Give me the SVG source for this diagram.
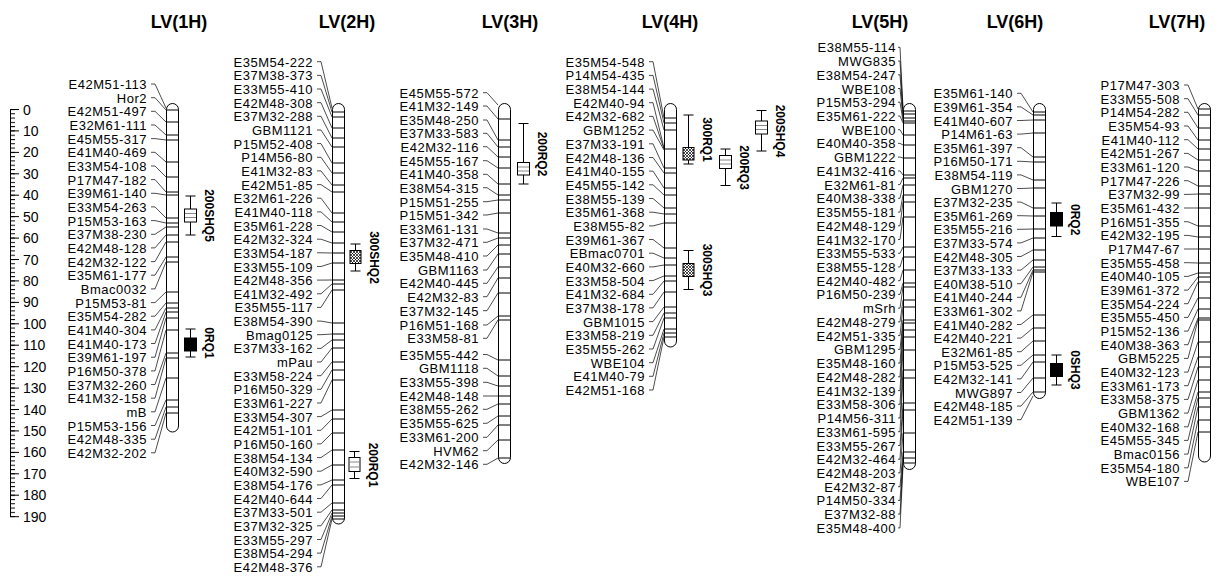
<svg xmlns="http://www.w3.org/2000/svg" width="1217" height="577" viewBox="0 0 1217 577">
<style>
.hdr{font-family:"Liberation Sans",Arial,sans-serif;font-weight:bold;font-size:18px;text-anchor:middle;fill:#000}
.lbl{font-family:"Liberation Sans",Arial,sans-serif;font-size:13px;letter-spacing:0.5px;text-anchor:end;fill:#000}
.sc{font-family:"Liberation Sans",Arial,sans-serif;font-size:14px;fill:#000}
.q{font-family:"Liberation Sans",Arial,sans-serif;font-weight:bold;font-size:12px;text-anchor:middle;fill:#000}
.chr{fill:#fff;stroke:#000;stroke-width:1}
.bar{stroke:#000;stroke-width:1;fill:none}
.con{stroke:#000;stroke-width:0.7;fill:none}
.wh{stroke:#000;stroke-width:1;fill:none}
.bw{fill:#fff;stroke:#000;stroke-width:1}
.bh{fill:url(#hatch);stroke:#000;stroke-width:1}
.bb{fill:#000;stroke:#000;stroke-width:1}
.in{stroke:#888;stroke-width:1}
</style>
<defs>
<pattern id="hatch" patternUnits="userSpaceOnUse" width="3" height="3">
<rect width="3" height="3" fill="#fff"/>
<path d="M0 0L3 3M3 0L0 3" stroke="#000" stroke-width="0.7"/>
</pattern>
<pattern id="ticks" patternUnits="userSpaceOnUse" x="10" y="109" width="6" height="4.2857">
<rect x="0" y="0" width="5" height="1" fill="#000"/>
</pattern>
</defs>
<rect width="1217" height="577" fill="#fff"/>

<g id="headers">
<text class="hdr" x="179" y="28">LV(1H)</text>
<text class="hdr" x="347" y="28">LV(2H)</text>
<text class="hdr" x="510" y="28">LV(3H)</text>
<text class="hdr" x="670" y="28">LV(4H)</text>
<text class="hdr" x="880" y="28">LV(5H)</text>
<text class="hdr" x="1015" y="28">LV(6H)</text>
<text class="hdr" x="1177" y="28">LV(7H)</text>
</g>

<g id="scale">
<line class="bar" x1="10.5" y1="109.5" x2="10.5" y2="516.7"/>
<rect x="10" y="109" width="6" height="408.5" fill="url(#ticks)"/>
<path class="bar" d="M10 109.5H19M10 130.9H19M10 152.4H19M10 173.8H19M10 195.2H19M10 216.6H19M10 238.1H19M10 259.5H19M10 280.9H19M10 302.4H19M10 323.8H19M10 345.2H19M10 366.7H19M10 388.1H19M10 409.5H19M10 430.9H19M10 452.4H19M10 473.8H19M10 495.2H19M10 516.7H19"/>
<text class="sc" x="23" y="114.5">0</text>
<text class="sc" x="23" y="135.9">10</text>
<text class="sc" x="23" y="157.4">20</text>
<text class="sc" x="23" y="178.8">30</text>
<text class="sc" x="23" y="200.2">40</text>
<text class="sc" x="23" y="221.6">50</text>
<text class="sc" x="23" y="243.1">60</text>
<text class="sc" x="23" y="264.5">70</text>
<text class="sc" x="23" y="285.9">80</text>
<text class="sc" x="23" y="307.4">90</text>
<text class="sc" x="23" y="328.8">100</text>
<text class="sc" x="23" y="350.2">110</text>
<text class="sc" x="23" y="371.7">120</text>
<text class="sc" x="23" y="393.1">130</text>
<text class="sc" x="23" y="414.5">140</text>
<text class="sc" x="23" y="435.9">150</text>
<text class="sc" x="23" y="457.4">160</text>
<text class="sc" x="23" y="478.8">170</text>
<text class="sc" x="23" y="500.2">180</text>
<text class="sc" x="23" y="521.7">190</text>
</g>

<g id="connectors">
<path class="con" d="M151 84H155L166 108"/>
<path class="con" d="M151 97.7H155L166 110"/>
<path class="con" d="M151 111.3H155L166 122"/>
<path class="con" d="M151 125H155L166 135"/>
<path class="con" d="M151 138.6H155L166 140"/>
<path class="con" d="M151 152.3H155L166 162"/>
<path class="con" d="M151 166H155L166 177"/>
<path class="con" d="M151 179.6H155L166 192"/>
<path class="con" d="M151 193.3H155L166 195"/>
<path class="con" d="M151 206.9H155L166 218"/>
<path class="con" d="M151 220.6H155L166 223"/>
<path class="con" d="M151 234.3H155L166 227"/>
<path class="con" d="M151 247.9H155L166 235"/>
<path class="con" d="M151 261.6H155L166 242"/>
<path class="con" d="M151 275.2H155L166 257"/>
<path class="con" d="M151 288.9H155L166 262"/>
<path class="con" d="M151 302.6H155L166 292"/>
<path class="con" d="M151 316.2H155L166 303"/>
<path class="con" d="M151 329.9H155L166 308"/>
<path class="con" d="M151 343.5H155L166 312"/>
<path class="con" d="M151 357.2H155L166 318"/>
<path class="con" d="M151 370.9H155L166 330"/>
<path class="con" d="M151 384.5H155L166 353"/>
<path class="con" d="M151 398.2H155L166 358"/>
<path class="con" d="M151 411.8H155L166 378"/>
<path class="con" d="M151 425.5H155L166 400"/>
<path class="con" d="M151 439.2H155L166 407"/>
<path class="con" d="M151 452.8H155L166 413"/>
<path class="con" d="M317 61.7H321L332 108"/>
<path class="con" d="M317 75.4H321L332 112"/>
<path class="con" d="M317 89H321L332 117"/>
<path class="con" d="M317 102.7H321L332 128"/>
<path class="con" d="M317 116.3H321L332 138"/>
<path class="con" d="M317 130H321L332 147"/>
<path class="con" d="M317 143.6H321L332 163"/>
<path class="con" d="M317 157.3H321L332 173"/>
<path class="con" d="M317 170.9H321L332 185"/>
<path class="con" d="M317 184.6H321L332 192"/>
<path class="con" d="M317 198.2H321L332 213"/>
<path class="con" d="M317 211.9H321L332 222"/>
<path class="con" d="M317 225.5H321L332 232"/>
<path class="con" d="M317 239.2H321L332 243"/>
<path class="con" d="M317 252.8H321L332 253"/>
<path class="con" d="M317 266.5H321L332 263"/>
<path class="con" d="M317 280.1H321L332 280"/>
<path class="con" d="M317 293.8H321L332 284"/>
<path class="con" d="M317 307.4H321L332 290"/>
<path class="con" d="M317 321.1H321L332 323"/>
<path class="con" d="M317 334.7H321L332 334"/>
<path class="con" d="M317 348.4H321L332 340"/>
<path class="con" d="M317 362H321L332 348"/>
<path class="con" d="M317 375.7H321L332 362"/>
<path class="con" d="M317 389.3H321L332 370"/>
<path class="con" d="M317 403H321L332 380"/>
<path class="con" d="M317 416.6H321L332 410"/>
<path class="con" d="M317 430.3H321L332 419"/>
<path class="con" d="M317 443.9H321L332 433"/>
<path class="con" d="M317 457.6H321L332 450"/>
<path class="con" d="M317 471.2H321L332 465"/>
<path class="con" d="M317 484.9H321L332 480"/>
<path class="con" d="M317 498.5H321L332 485"/>
<path class="con" d="M317 512.2H321L332 503"/>
<path class="con" d="M317 525.8H321L332 510"/>
<path class="con" d="M317 539.5H321L332 513"/>
<path class="con" d="M317 553.1H321L332 516"/>
<path class="con" d="M317 566.8H321L332 519"/>
<path class="con" d="M483 92.7H487L498 105"/>
<path class="con" d="M483 106H487L498 119"/>
<path class="con" d="M483 120H487L498 140"/>
<path class="con" d="M483 133.3H487L498 147"/>
<path class="con" d="M483 146.7H487L498 157"/>
<path class="con" d="M483 160.7H487L498 168"/>
<path class="con" d="M483 174.3H487L498 184"/>
<path class="con" d="M483 187.7H487L498 195"/>
<path class="con" d="M483 201.7H487L498 200"/>
<path class="con" d="M483 215H487L498 213"/>
<path class="con" d="M483 229H487L498 233"/>
<path class="con" d="M483 242.3H487L498 238"/>
<path class="con" d="M483 256H487L498 245"/>
<path class="con" d="M483 270H487L498 254"/>
<path class="con" d="M483 283.3H487L498 267"/>
<path class="con" d="M483 296.7H487L498 278"/>
<path class="con" d="M483 310.7H487L498 293"/>
<path class="con" d="M483 325H487L498 316"/>
<path class="con" d="M483 338.3H487L498 320"/>
<path class="con" d="M483 354.5H487L498 360"/>
<path class="con" d="M483 368.3H487L498 376"/>
<path class="con" d="M483 382.3H487L498 386"/>
<path class="con" d="M483 396H487L498 396"/>
<path class="con" d="M483 409.3H487L498 404"/>
<path class="con" d="M483 423.3H487L498 416"/>
<path class="con" d="M483 437.3H487L498 425"/>
<path class="con" d="M483 450.7H487L498 440"/>
<path class="con" d="M483 464.3H487L498 458"/>
<path class="con" d="M649 61.7H653L664 118"/>
<path class="con" d="M649 75.4H653L664 123"/>
<path class="con" d="M649 89.1H653L664 130"/>
<path class="con" d="M649 102.7H653L664 148"/>
<path class="con" d="M649 116.4H653L664 149"/>
<path class="con" d="M649 130.1H653L664 150"/>
<path class="con" d="M649 143.8H653L664 168"/>
<path class="con" d="M649 157.5H653L664 173"/>
<path class="con" d="M649 171.1H653L664 188"/>
<path class="con" d="M649 184.8H653L664 195"/>
<path class="con" d="M649 198.5H653L664 208"/>
<path class="con" d="M649 212.2H653L664 214"/>
<path class="con" d="M649 225.9H653L664 223"/>
<path class="con" d="M649 239.5H653L664 248"/>
<path class="con" d="M649 253.2H653L664 258"/>
<path class="con" d="M649 266.9H653L664 265"/>
<path class="con" d="M649 280.6H653L664 276"/>
<path class="con" d="M649 294.3H653L664 281"/>
<path class="con" d="M649 307.9H653L664 292"/>
<path class="con" d="M649 321.6H653L664 307"/>
<path class="con" d="M649 335.3H653L664 313"/>
<path class="con" d="M649 349H653L664 318"/>
<path class="con" d="M649 362.7H653L664 329"/>
<path class="con" d="M649 376.3H653L664 333"/>
<path class="con" d="M649 390H653L664 337"/>
<path class="con" d="M898 47.3H900L903 108"/>
<path class="con" d="M898 61H900L903 111"/>
<path class="con" d="M898 74.8H900L903 114"/>
<path class="con" d="M898 88.5H900L903 118"/>
<path class="con" d="M898 102.2H900L903 121"/>
<path class="con" d="M898 116H900L903 123"/>
<path class="con" d="M898 129.7H900L903 135"/>
<path class="con" d="M898 143.4H900L903 145"/>
<path class="con" d="M898 157.1H900L903 158"/>
<path class="con" d="M898 170.9H900L903 175"/>
<path class="con" d="M898 184.6H900L903 178"/>
<path class="con" d="M898 198.3H900L903 185"/>
<path class="con" d="M898 212.1H900L903 195"/>
<path class="con" d="M898 225.8H900L903 202"/>
<path class="con" d="M898 239.5H900L903 217"/>
<path class="con" d="M898 253.3H900L903 247"/>
<path class="con" d="M898 267H900L903 257"/>
<path class="con" d="M898 280.7H900L903 270"/>
<path class="con" d="M898 294.4H900L903 283"/>
<path class="con" d="M898 308.2H900L903 287"/>
<path class="con" d="M898 321.9H900L903 300"/>
<path class="con" d="M898 335.6H900L903 307"/>
<path class="con" d="M898 349.4H900L903 320"/>
<path class="con" d="M898 363.1H900L903 323"/>
<path class="con" d="M898 376.8H900L903 330"/>
<path class="con" d="M898 390.6H900L903 337"/>
<path class="con" d="M898 404.3H900L903 350"/>
<path class="con" d="M898 418H900L903 370"/>
<path class="con" d="M898 431.7H900L903 378"/>
<path class="con" d="M898 445.5H900L903 403"/>
<path class="con" d="M898 459.2H900L903 410"/>
<path class="con" d="M898 472.9H900L903 433"/>
<path class="con" d="M898 486.7H900L903 452"/>
<path class="con" d="M898 500.4H900L903 458"/>
<path class="con" d="M898 514.1H900L903 463"/>
<path class="con" d="M898 527.9H900L903 466"/>
<path class="con" d="M1017 93.3H1021L1033 112"/>
<path class="con" d="M1017 106.9H1021L1033 115"/>
<path class="con" d="M1017 120.5H1021L1033 120"/>
<path class="con" d="M1017 134.1H1021L1033 133"/>
<path class="con" d="M1017 147.7H1021L1033 157"/>
<path class="con" d="M1017 161.3H1021L1033 162"/>
<path class="con" d="M1017 174.9H1021L1033 180"/>
<path class="con" d="M1017 188.5H1021L1033 188"/>
<path class="con" d="M1017 202.1H1021L1033 208"/>
<path class="con" d="M1017 215.7H1021L1033 216"/>
<path class="con" d="M1017 229.3H1021L1033 229"/>
<path class="con" d="M1017 242.9H1021L1033 238"/>
<path class="con" d="M1017 256.5H1021L1033 250"/>
<path class="con" d="M1017 270.1H1021L1033 260"/>
<path class="con" d="M1017 283.7H1021L1033 267"/>
<path class="con" d="M1017 297.3H1021L1033 270"/>
<path class="con" d="M1017 310.9H1021L1033 272"/>
<path class="con" d="M1017 324.5H1021L1033 315"/>
<path class="con" d="M1017 338.1H1021L1033 328"/>
<path class="con" d="M1017 351.7H1021L1033 341"/>
<path class="con" d="M1017 365.3H1021L1033 355"/>
<path class="con" d="M1017 378.9H1021L1033 362"/>
<path class="con" d="M1017 392.5H1021L1033 378"/>
<path class="con" d="M1017 406.1H1021L1033 392"/>
<path class="con" d="M1017 419.7H1021L1033 396"/>
<path class="con" d="M1184 85H1188L1198 109"/>
<path class="con" d="M1184 98.7H1188L1198 115"/>
<path class="con" d="M1184 112.3H1188L1198 128"/>
<path class="con" d="M1184 126H1188L1198 140"/>
<path class="con" d="M1184 139.7H1188L1198 149"/>
<path class="con" d="M1184 153.4H1188L1198 160"/>
<path class="con" d="M1184 167H1188L1198 171"/>
<path class="con" d="M1184 180.7H1188L1198 186"/>
<path class="con" d="M1184 194.4H1188L1198 194"/>
<path class="con" d="M1184 208H1188L1198 208"/>
<path class="con" d="M1184 221.7H1188L1198 226"/>
<path class="con" d="M1184 235.4H1188L1198 237"/>
<path class="con" d="M1184 249H1188L1198 249"/>
<path class="con" d="M1184 262.7H1188L1198 263"/>
<path class="con" d="M1184 276.4H1188L1198 273"/>
<path class="con" d="M1184 290.1H1188L1198 277"/>
<path class="con" d="M1184 303.7H1188L1198 282"/>
<path class="con" d="M1184 317.4H1188L1198 298"/>
<path class="con" d="M1184 331.1H1188L1198 309"/>
<path class="con" d="M1184 344.7H1188L1198 318"/>
<path class="con" d="M1184 358.4H1188L1198 320"/>
<path class="con" d="M1184 372.1H1188L1198 342"/>
<path class="con" d="M1184 385.7H1188L1198 357"/>
<path class="con" d="M1184 399.4H1188L1198 367"/>
<path class="con" d="M1184 413.1H1188L1198 380"/>
<path class="con" d="M1184 426.8H1188L1198 392"/>
<path class="con" d="M1184 440.4H1188L1198 398"/>
<path class="con" d="M1184 454.1H1188L1198 407"/>
<path class="con" d="M1184 467.8H1188L1198 420"/>
<path class="con" d="M1184 481.4H1188L1198 432"/>
</g>

<g id="LV1H">
<rect class="chr" x="166.5" y="103.5" width="12" height="328.5" rx="6" ry="6"/>
<path class="bar" d="M166.5 110H178.5M166.5 122H178.5M166.5 135H178.5M166.5 140H178.5M166.5 162H178.5M166.5 177H178.5M166.5 192H178.5M166.5 195H178.5M166.5 218H178.5M166.5 223H178.5M166.5 227H178.5M166.5 235H178.5M166.5 242H178.5M166.5 257H178.5M166.5 262H178.5M166.5 292H178.5M166.5 303H178.5M166.5 308H178.5M166.5 312H178.5M166.5 318H178.5M166.5 330H178.5M166.5 353H178.5M166.5 358H178.5M166.5 378H178.5M166.5 400H178.5M166.5 407H178.5M166.5 413H178.5"/>
<text class="lbl" x="147" y="89">E42M51-113</text>
<text class="lbl" x="147" y="102.7">Hor2</text>
<text class="lbl" x="147" y="116.3">E42M51-497</text>
<text class="lbl" x="147" y="130">E32M61-111</text>
<text class="lbl" x="147" y="143.6">E45M55-317</text>
<text class="lbl" x="147" y="157.3">E41M40-469</text>
<text class="lbl" x="147" y="171">E33M54-108</text>
<text class="lbl" x="147" y="184.6">P17M47-182</text>
<text class="lbl" x="147" y="198.3">E39M61-140</text>
<text class="lbl" x="147" y="211.9">E33M54-263</text>
<text class="lbl" x="147" y="225.6">P15M53-163</text>
<text class="lbl" x="147" y="239.3">E37M38-230</text>
<text class="lbl" x="147" y="252.9">E42M48-128</text>
<text class="lbl" x="147" y="266.6">E42M32-122</text>
<text class="lbl" x="147" y="280.2">E35M61-177</text>
<text class="lbl" x="147" y="293.9">Bmac0032</text>
<text class="lbl" x="147" y="307.6">P15M53-81</text>
<text class="lbl" x="147" y="321.2">E35M54-282</text>
<text class="lbl" x="147" y="334.9">E41M40-304</text>
<text class="lbl" x="147" y="348.5">E41M40-173</text>
<text class="lbl" x="147" y="362.2">E39M61-197</text>
<text class="lbl" x="147" y="375.9">P16M50-378</text>
<text class="lbl" x="147" y="389.5">E37M32-260</text>
<text class="lbl" x="147" y="403.2">E41M32-158</text>
<text class="lbl" x="147" y="416.8">mB</text>
<text class="lbl" x="147" y="430.5">P15M53-156</text>
<text class="lbl" x="147" y="444.2">E42M48-335</text>
<text class="lbl" x="147" y="457.8">E42M32-202</text>
<g id="q-200SHQ5">
<path class="wh" d="M190.5 196V235M185.5 196H195.5M185.5 235H195.5"/>
<rect class="bw" x="184.5" y="209" width="12" height="13"/>
<path class="in" d="M185 213.5H196M185 217.5H196"/>
<text class="q" transform="translate(204.5 215.5) rotate(90)">200SHQ5</text>
</g>
<g id="q-0RQ1">
<path class="wh" d="M190.5 329V357M185.5 329H195.5M185.5 357H195.5"/>
<rect class="bb" x="184.5" y="338" width="12" height="13"/>
<text class="q" transform="translate(204.5 343) rotate(90)">0RQ1</text>
</g>
</g>

<g id="LV2H">
<rect class="chr" x="332.5" y="103.5" width="12" height="420.5" rx="6" ry="6"/>
<path class="bar" d="M332.5 112H344.5M332.5 117H344.5M332.5 128H344.5M332.5 138H344.5M332.5 147H344.5M332.5 163H344.5M332.5 173H344.5M332.5 185H344.5M332.5 192H344.5M332.5 213H344.5M332.5 222H344.5M332.5 232H344.5M332.5 243H344.5M332.5 253H344.5M332.5 263H344.5M332.5 280H344.5M332.5 284H344.5M332.5 290H344.5M332.5 323H344.5M332.5 334H344.5M332.5 340H344.5M332.5 348H344.5M332.5 362H344.5M332.5 370H344.5M332.5 380H344.5M332.5 410H344.5M332.5 419H344.5M332.5 433H344.5M332.5 450H344.5M332.5 465H344.5M332.5 480H344.5M332.5 485H344.5M332.5 503H344.5M332.5 510H344.5M332.5 513H344.5M332.5 516H344.5M332.5 519H344.5"/>
<text class="lbl" x="313" y="66.7">E35M54-222</text>
<text class="lbl" x="313" y="80.4">E37M38-373</text>
<text class="lbl" x="313" y="94">E33M55-410</text>
<text class="lbl" x="313" y="107.7">E42M48-308</text>
<text class="lbl" x="313" y="121.3">E37M32-288</text>
<text class="lbl" x="313" y="135">GBM1121</text>
<text class="lbl" x="313" y="148.6">P15M52-408</text>
<text class="lbl" x="313" y="162.3">P14M56-80</text>
<text class="lbl" x="313" y="175.9">E41M32-83</text>
<text class="lbl" x="313" y="189.6">E42M51-85</text>
<text class="lbl" x="313" y="203.2">E32M61-226</text>
<text class="lbl" x="313" y="216.9">E41M40-118</text>
<text class="lbl" x="313" y="230.5">E35M61-228</text>
<text class="lbl" x="313" y="244.2">E42M32-324</text>
<text class="lbl" x="313" y="257.8">E33M54-187</text>
<text class="lbl" x="313" y="271.5">E33M55-109</text>
<text class="lbl" x="313" y="285.1">E42M48-356</text>
<text class="lbl" x="313" y="298.8">E41M32-492</text>
<text class="lbl" x="313" y="312.4">E35M55-117</text>
<text class="lbl" x="313" y="326.1">E38M54-390</text>
<text class="lbl" x="313" y="339.7">Bmag0125</text>
<text class="lbl" x="313" y="353.4">E37M33-162</text>
<text class="lbl" x="313" y="367">mPau</text>
<text class="lbl" x="313" y="380.7">E33M58-224</text>
<text class="lbl" x="313" y="394.3">P16M50-329</text>
<text class="lbl" x="313" y="408">E33M61-227</text>
<text class="lbl" x="313" y="421.6">E33M54-307</text>
<text class="lbl" x="313" y="435.3">E42M51-101</text>
<text class="lbl" x="313" y="448.9">P16M50-160</text>
<text class="lbl" x="313" y="462.6">E38M54-134</text>
<text class="lbl" x="313" y="476.2">E40M32-590</text>
<text class="lbl" x="313" y="489.9">E38M54-176</text>
<text class="lbl" x="313" y="503.5">E42M40-644</text>
<text class="lbl" x="313" y="517.2">E37M33-501</text>
<text class="lbl" x="313" y="530.8">E37M32-325</text>
<text class="lbl" x="313" y="544.5">E33M55-297</text>
<text class="lbl" x="313" y="558.1">E38M54-294</text>
<text class="lbl" x="313" y="571.8">E42M48-376</text>
<g id="q-300SHQ2">
<path class="wh" d="M355.5 244V271M350.5 244H360.5M350.5 271H360.5"/>
<rect class="bh" x="350" y="250.5" width="11" height="13"/>
<text class="q" transform="translate(369.5 257.5) rotate(90)">300SHQ2</text>
</g>
<g id="q-200RQ1">
<path class="wh" d="M354.5 451.5V478.5M349.5 451.5H359.5M349.5 478.5H359.5"/>
<rect class="bw" x="349" y="457.5" width="11" height="14"/>
<path class="in" d="M349.5 462H359.5M349.5 467H359.5"/>
<text class="q" transform="translate(368.5 465) rotate(90)">200RQ1</text>
</g>
</g>

<g id="LV3H">
<rect class="chr" x="498.5" y="103.5" width="12" height="360" rx="6" ry="6"/>
<path class="bar" d="M498.5 119H510.5M498.5 140H510.5M498.5 147H510.5M498.5 157H510.5M498.5 168H510.5M498.5 184H510.5M498.5 195H510.5M498.5 200H510.5M498.5 213H510.5M498.5 233H510.5M498.5 238H510.5M498.5 245H510.5M498.5 254H510.5M498.5 267H510.5M498.5 278H510.5M498.5 293H510.5M498.5 316H510.5M498.5 320H510.5M498.5 360H510.5M498.5 376H510.5M498.5 386H510.5M498.5 396H510.5M498.5 404H510.5M498.5 416H510.5M498.5 425H510.5M498.5 440H510.5M498.5 458H510.5"/>
<text class="lbl" x="479" y="97.7">E45M55-572</text>
<text class="lbl" x="479" y="111">E41M32-149</text>
<text class="lbl" x="479" y="125">E35M48-250</text>
<text class="lbl" x="479" y="138.3">E37M33-583</text>
<text class="lbl" x="479" y="151.7">E42M32-116</text>
<text class="lbl" x="479" y="165.7">E45M55-167</text>
<text class="lbl" x="479" y="179.3">E41M40-358</text>
<text class="lbl" x="479" y="192.7">E38M54-315</text>
<text class="lbl" x="479" y="206.7">P15M51-255</text>
<text class="lbl" x="479" y="220">P15M51-342</text>
<text class="lbl" x="479" y="234">E33M61-131</text>
<text class="lbl" x="479" y="247.3">E37M32-471</text>
<text class="lbl" x="479" y="261">E35M48-410</text>
<text class="lbl" x="479" y="275">GBM1163</text>
<text class="lbl" x="479" y="288.3">E42M40-445</text>
<text class="lbl" x="479" y="301.7">E42M32-83</text>
<text class="lbl" x="479" y="315.7">E37M32-145</text>
<text class="lbl" x="479" y="330">P16M51-168</text>
<text class="lbl" x="479" y="343.3">E33M58-81</text>
<text class="lbl" x="479" y="359.5">E35M55-442</text>
<text class="lbl" x="479" y="373.3">GBM1118</text>
<text class="lbl" x="479" y="387.3">E33M55-398</text>
<text class="lbl" x="479" y="401">E42M48-148</text>
<text class="lbl" x="479" y="414.3">E38M55-262</text>
<text class="lbl" x="479" y="428.3">E35M55-625</text>
<text class="lbl" x="479" y="442.3">E33M61-200</text>
<text class="lbl" x="479" y="455.7">HVM62</text>
<text class="lbl" x="479" y="469.3">E42M32-146</text>
<g id="q-200RQ2">
<path class="wh" d="M523.5 123.5V184M518.5 123.5H528.5M518.5 184H528.5"/>
<rect class="bw" x="517.5" y="162.5" width="12" height="12.5"/>
<path class="in" d="M518 167H529M518 171H529"/>
<text class="q" transform="translate(537.5 154) rotate(90)">200RQ2</text>
</g>
</g>

<g id="LV4H">
<rect class="chr" x="664.5" y="103.5" width="12" height="243.5" rx="6" ry="6"/>
<path class="bar" d="M664.5 118H676.5M664.5 123H676.5M664.5 130H676.5M664.5 149H676.5M664.5 168H676.5M664.5 173H676.5M664.5 188H676.5M664.5 195H676.5M664.5 208H676.5M664.5 214H676.5M664.5 223H676.5M664.5 248H676.5M664.5 258H676.5M664.5 265H676.5M664.5 276H676.5M664.5 281H676.5M664.5 292H676.5M664.5 307H676.5M664.5 313H676.5M664.5 318H676.5M664.5 329H676.5M664.5 333H676.5M664.5 337H676.5"/>
<text class="lbl" x="645" y="66.7">E35M54-548</text>
<text class="lbl" x="645" y="80.4">P14M54-435</text>
<text class="lbl" x="645" y="94.1">E38M54-144</text>
<text class="lbl" x="645" y="107.7">E42M40-94</text>
<text class="lbl" x="645" y="121.4">E42M32-682</text>
<text class="lbl" x="645" y="135.1">GBM1252</text>
<text class="lbl" x="645" y="148.8">E37M33-191</text>
<text class="lbl" x="645" y="162.5">E42M48-136</text>
<text class="lbl" x="645" y="176.1">E41M40-155</text>
<text class="lbl" x="645" y="189.8">E45M55-142</text>
<text class="lbl" x="645" y="203.5">E38M55-139</text>
<text class="lbl" x="645" y="217.2">E35M61-368</text>
<text class="lbl" x="645" y="230.9">E38M55-82</text>
<text class="lbl" x="645" y="244.5">E39M61-367</text>
<text class="lbl" x="645" y="258.2">EBmac0701</text>
<text class="lbl" x="645" y="271.9">E40M32-660</text>
<text class="lbl" x="645" y="285.6">E33M58-504</text>
<text class="lbl" x="645" y="299.3">E41M32-684</text>
<text class="lbl" x="645" y="312.9">E37M38-178</text>
<text class="lbl" x="645" y="326.6">GBM1015</text>
<text class="lbl" x="645" y="340.3">E33M58-219</text>
<text class="lbl" x="645" y="354">E35M55-262</text>
<text class="lbl" x="645" y="367.7">WBE104</text>
<text class="lbl" x="645" y="381.3">E41M40-79</text>
<text class="lbl" x="645" y="395">E42M51-168</text>
<g id="q-300RQ1">
<path class="wh" d="M688.5 115V164M683.5 115H693.5M683.5 164H693.5"/>
<rect class="bh" x="683" y="147.5" width="11" height="12.5"/>
<text class="q" transform="translate(702.5 139.5) rotate(90)">300RQ1</text>
</g>
<g id="q-200RQ3">
<path class="wh" d="M725.5 149V185.5M720.5 149H730.5M720.5 185.5H730.5"/>
<rect class="bw" x="719.5" y="155.5" width="12" height="13"/>
<path class="in" d="M720 160H731M720 164H731"/>
<text class="q" transform="translate(739.5 167.5) rotate(90)">200RQ3</text>
</g>
<g id="q-200SHQ4">
<path class="wh" d="M761.5 110.5V151M756.5 110.5H766.5M756.5 151H766.5"/>
<rect class="bw" x="755.5" y="121" width="12" height="13"/>
<path class="in" d="M756 125.5H767M756 129.5H767"/>
<text class="q" transform="translate(775.5 131) rotate(90)">200SHQ4</text>
</g>
<g id="q-300SHQ3">
<path class="wh" d="M688.5 250.5V289.5M683.5 250.5H693.5M683.5 289.5H693.5"/>
<rect class="bh" x="683" y="263.5" width="11" height="13"/>
<text class="q" transform="translate(702.5 270) rotate(90)">300SHQ3</text>
</g>
</g>

<g id="LV5H">
<rect class="chr" x="903.5" y="103.5" width="12" height="366" rx="6" ry="6"/>
<path class="bar" d="M903.5 111H915.5M903.5 114H915.5M903.5 118H915.5M903.5 121H915.5M903.5 123H915.5M903.5 135H915.5M903.5 145H915.5M903.5 158H915.5M903.5 175H915.5M903.5 178H915.5M903.5 185H915.5M903.5 195H915.5M903.5 202H915.5M903.5 217H915.5M903.5 247H915.5M903.5 257H915.5M903.5 270H915.5M903.5 283H915.5M903.5 287H915.5M903.5 300H915.5M903.5 307H915.5M903.5 320H915.5M903.5 323H915.5M903.5 330H915.5M903.5 337H915.5M903.5 350H915.5M903.5 370H915.5M903.5 378H915.5M903.5 403H915.5M903.5 410H915.5M903.5 433H915.5M903.5 452H915.5M903.5 458H915.5M903.5 463H915.5"/>
<text class="lbl" x="896" y="52.3">E38M55-114</text>
<text class="lbl" x="896" y="66">MWG835</text>
<text class="lbl" x="896" y="79.8">E38M54-247</text>
<text class="lbl" x="896" y="93.5">WBE108</text>
<text class="lbl" x="896" y="107.2">P15M53-294</text>
<text class="lbl" x="896" y="121">E35M61-222</text>
<text class="lbl" x="896" y="134.7">WBE100</text>
<text class="lbl" x="896" y="148.4">E40M40-358</text>
<text class="lbl" x="896" y="162.1">GBM1222</text>
<text class="lbl" x="896" y="175.9">E41M32-416</text>
<text class="lbl" x="896" y="189.6">E32M61-81</text>
<text class="lbl" x="896" y="203.3">E40M38-338</text>
<text class="lbl" x="896" y="217.1">E35M55-181</text>
<text class="lbl" x="896" y="230.8">E42M48-129</text>
<text class="lbl" x="896" y="244.5">E41M32-170</text>
<text class="lbl" x="896" y="258.3">E33M55-533</text>
<text class="lbl" x="896" y="272">E38M55-128</text>
<text class="lbl" x="896" y="285.7">E42M40-482</text>
<text class="lbl" x="896" y="299.4">P16M50-239</text>
<text class="lbl" x="896" y="313.2">mSrh</text>
<text class="lbl" x="896" y="326.9">E42M48-279</text>
<text class="lbl" x="896" y="340.6">E42M51-335</text>
<text class="lbl" x="896" y="354.4">GBM1295</text>
<text class="lbl" x="896" y="368.1">E35M48-160</text>
<text class="lbl" x="896" y="381.8">E42M48-282</text>
<text class="lbl" x="896" y="395.6">E41M32-139</text>
<text class="lbl" x="896" y="409.3">E33M58-306</text>
<text class="lbl" x="896" y="423">P14M56-311</text>
<text class="lbl" x="896" y="436.7">E33M61-595</text>
<text class="lbl" x="896" y="450.5">E33M55-267</text>
<text class="lbl" x="896" y="464.2">E42M32-464</text>
<text class="lbl" x="896" y="477.9">E42M48-203</text>
<text class="lbl" x="896" y="491.7">E42M32-87</text>
<text class="lbl" x="896" y="505.4">P14M50-334</text>
<text class="lbl" x="896" y="519.1">E37M32-88</text>
<text class="lbl" x="896" y="532.9">E35M48-400</text>
</g>

<g id="LV6H">
<rect class="chr" x="1033.5" y="103.5" width="12" height="295" rx="6" ry="6"/>
<path class="bar" d="M1033.5 112H1045.5M1033.5 115H1045.5M1033.5 120H1045.5M1033.5 133H1045.5M1033.5 157H1045.5M1033.5 162H1045.5M1033.5 180H1045.5M1033.5 188H1045.5M1033.5 208H1045.5M1033.5 216H1045.5M1033.5 229H1045.5M1033.5 238H1045.5M1033.5 250H1045.5M1033.5 260H1045.5M1033.5 267H1045.5M1033.5 270H1045.5M1033.5 272H1045.5M1033.5 315H1045.5M1033.5 328H1045.5M1033.5 341H1045.5M1033.5 355H1045.5M1033.5 362H1045.5M1033.5 378H1045.5M1033.5 392H1045.5"/>
<text class="lbl" x="1013" y="98.3">E35M61-140</text>
<text class="lbl" x="1013" y="111.9">E39M61-354</text>
<text class="lbl" x="1013" y="125.5">E41M40-607</text>
<text class="lbl" x="1013" y="139.1">P14M61-63</text>
<text class="lbl" x="1013" y="152.7">E35M61-397</text>
<text class="lbl" x="1013" y="166.3">P16M50-171</text>
<text class="lbl" x="1013" y="179.9">E38M54-119</text>
<text class="lbl" x="1013" y="193.5">GBM1270</text>
<text class="lbl" x="1013" y="207.1">E37M32-235</text>
<text class="lbl" x="1013" y="220.7">E35M61-269</text>
<text class="lbl" x="1013" y="234.3">E35M55-216</text>
<text class="lbl" x="1013" y="247.9">E37M33-574</text>
<text class="lbl" x="1013" y="261.5">E42M48-305</text>
<text class="lbl" x="1013" y="275.1">E37M33-133</text>
<text class="lbl" x="1013" y="288.7">E40M38-510</text>
<text class="lbl" x="1013" y="302.3">E41M40-244</text>
<text class="lbl" x="1013" y="315.9">E33M61-302</text>
<text class="lbl" x="1013" y="329.5">E41M40-282</text>
<text class="lbl" x="1013" y="343.1">E42M40-221</text>
<text class="lbl" x="1013" y="356.7">E32M61-85</text>
<text class="lbl" x="1013" y="370.3">P15M53-525</text>
<text class="lbl" x="1013" y="383.9">E42M32-141</text>
<text class="lbl" x="1013" y="397.5">MWG897</text>
<text class="lbl" x="1013" y="411.1">E42M48-185</text>
<text class="lbl" x="1013" y="424.7">E42M51-139</text>
<g id="q-0RQ2">
<path class="wh" d="M1056.5 203V236.5M1051.5 203H1061.5M1051.5 236.5H1061.5"/>
<rect class="bb" x="1050.5" y="212.5" width="12" height="13.5"/>
<text class="q" transform="translate(1070.5 219.7) rotate(90)">0RQ2</text>
</g>
<g id="q-0SHQ3">
<path class="wh" d="M1056.5 355V385M1051.5 355H1061.5M1051.5 385H1061.5"/>
<rect class="bb" x="1050.5" y="363.5" width="12" height="13"/>
<text class="q" transform="translate(1070.5 370) rotate(90)">0SHQ3</text>
</g>
</g>

<g id="LV7H">
<rect class="chr" x="1198.5" y="103.5" width="12" height="358.5" rx="6" ry="6"/>
<path class="bar" d="M1198.5 109H1210.5M1198.5 115H1210.5M1198.5 128H1210.5M1198.5 140H1210.5M1198.5 149H1210.5M1198.5 160H1210.5M1198.5 171H1210.5M1198.5 186H1210.5M1198.5 194H1210.5M1198.5 208H1210.5M1198.5 226H1210.5M1198.5 237H1210.5M1198.5 249H1210.5M1198.5 263H1210.5M1198.5 273H1210.5M1198.5 277H1210.5M1198.5 282H1210.5M1198.5 298H1210.5M1198.5 309H1210.5M1198.5 318H1210.5M1198.5 320H1210.5M1198.5 342H1210.5M1198.5 357H1210.5M1198.5 367H1210.5M1198.5 380H1210.5M1198.5 392H1210.5M1198.5 398H1210.5M1198.5 407H1210.5M1198.5 420H1210.5M1198.5 432H1210.5"/>
<text class="lbl" x="1180" y="90">P17M47-303</text>
<text class="lbl" x="1180" y="103.7">E33M55-508</text>
<text class="lbl" x="1180" y="117.3">P14M54-282</text>
<text class="lbl" x="1180" y="131">E35M54-93</text>
<text class="lbl" x="1180" y="144.7">E41M40-112</text>
<text class="lbl" x="1180" y="158.4">E42M51-267</text>
<text class="lbl" x="1180" y="172">E33M61-120</text>
<text class="lbl" x="1180" y="185.7">P17M47-226</text>
<text class="lbl" x="1180" y="199.4">E37M32-99</text>
<text class="lbl" x="1180" y="213">E35M61-432</text>
<text class="lbl" x="1180" y="226.7">P16M51-355</text>
<text class="lbl" x="1180" y="240.4">E42M32-195</text>
<text class="lbl" x="1180" y="254">P17M47-67</text>
<text class="lbl" x="1180" y="267.7">E35M55-458</text>
<text class="lbl" x="1180" y="281.4">E40M40-105</text>
<text class="lbl" x="1180" y="295.1">E39M61-372</text>
<text class="lbl" x="1180" y="308.7">E35M54-224</text>
<text class="lbl" x="1180" y="322.4">E35M55-450</text>
<text class="lbl" x="1180" y="336.1">P15M52-136</text>
<text class="lbl" x="1180" y="349.7">E40M38-363</text>
<text class="lbl" x="1180" y="363.4">GBM5225</text>
<text class="lbl" x="1180" y="377.1">E40M32-123</text>
<text class="lbl" x="1180" y="390.7">E33M61-173</text>
<text class="lbl" x="1180" y="404.4">E33M58-375</text>
<text class="lbl" x="1180" y="418.1">GBM1362</text>
<text class="lbl" x="1180" y="431.8">E40M32-168</text>
<text class="lbl" x="1180" y="445.4">E45M55-345</text>
<text class="lbl" x="1180" y="459.1">Bmac0156</text>
<text class="lbl" x="1180" y="472.8">E35M54-180</text>
<text class="lbl" x="1180" y="486.4">WBE107</text>
</g>
</svg>
